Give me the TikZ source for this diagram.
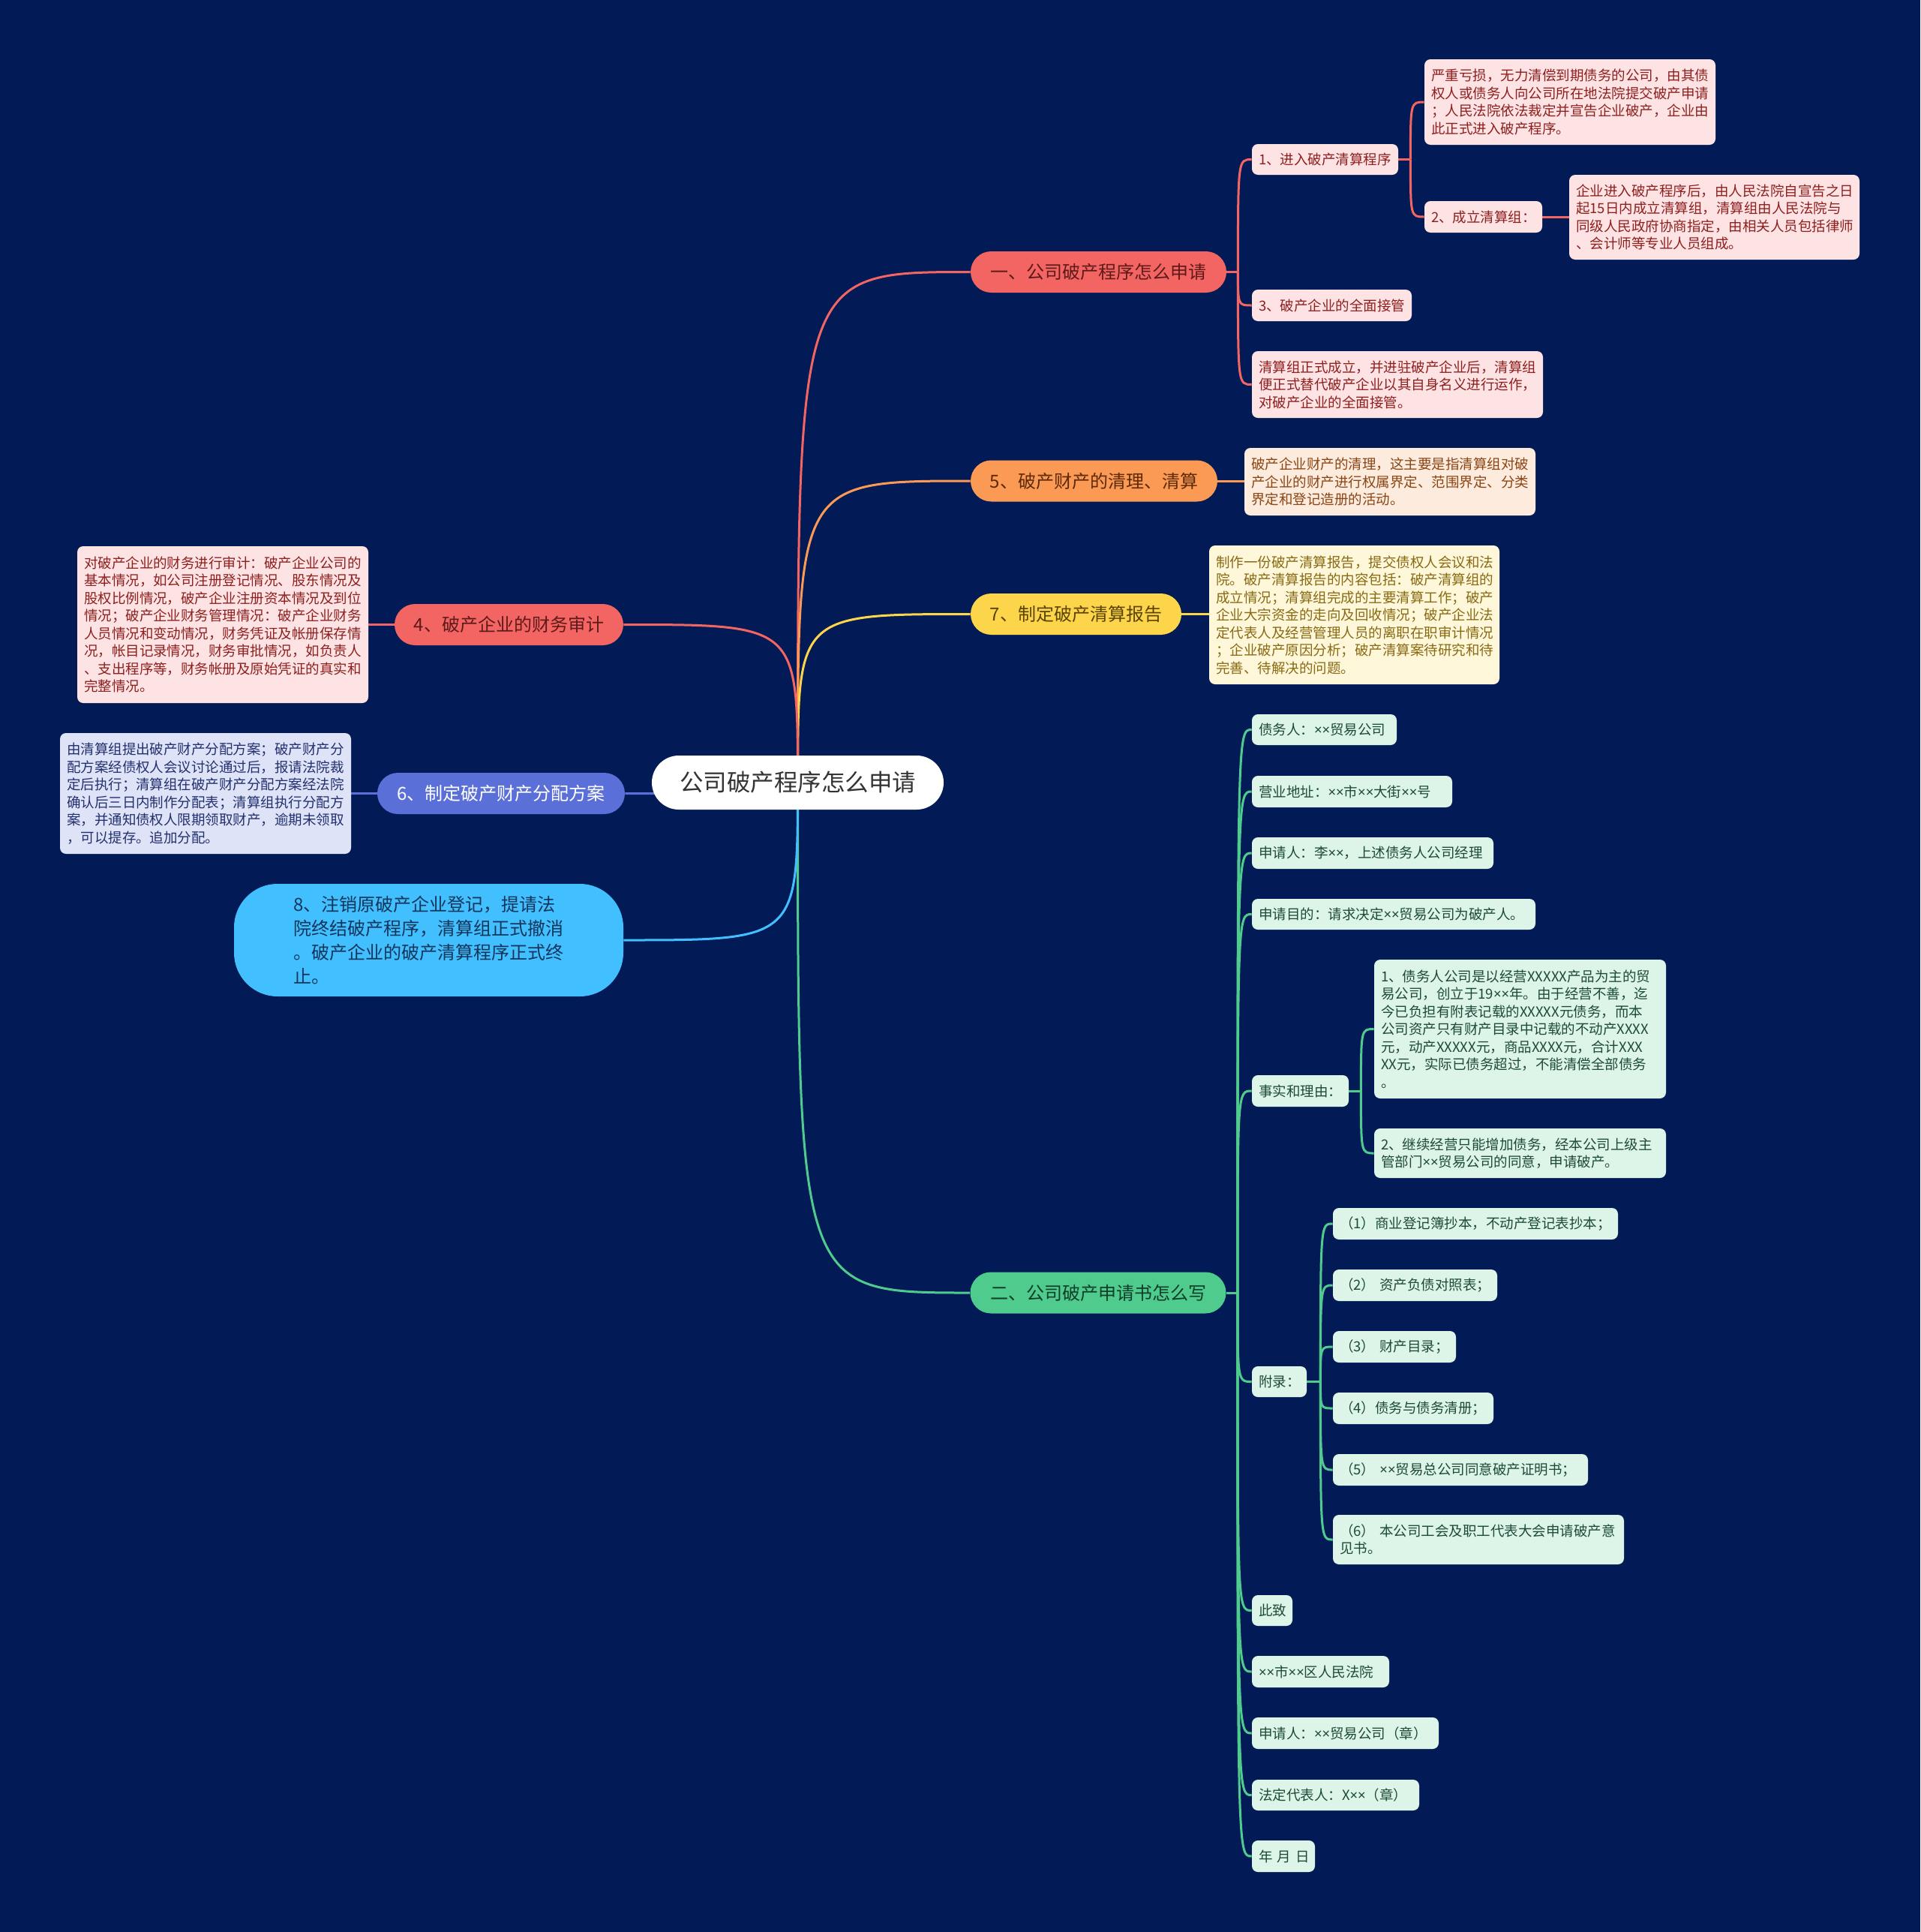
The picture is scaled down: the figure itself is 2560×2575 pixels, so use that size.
\documentclass[tikz,border=0pt]{standalone}
\usepackage{fontspec}
\setmainfont{Noto Sans CJK SC}
\newfontfamily\latf{Noto Sans}
\newcommand\xm{{\latf ×}}
\hyphenpenalty=10000
\exhyphenpenalty=10000
\definecolor{bgc}{RGB}{2,27,86}
\definecolor{cred}{HTML}{F26562}
\definecolor{corange}{HTML}{FB9A55}
\definecolor{cyellow}{HTML}{FDD54B}
\definecolor{cpurple}{HTML}{5B6FD8}
\definecolor{cblue}{HTML}{41BFFF}
\definecolor{cgreen}{HTML}{4FCB8E}
\definecolor{lred}{HTML}{FDE3E3}
\definecolor{tred}{HTML}{8E1F1F}
\definecolor{lorange}{HTML}{FDEBDD}
\definecolor{torange}{HTML}{8A4514}
\definecolor{lyellow}{HTML}{FFF7DA}
\definecolor{tyellow}{HTML}{876A12}
\definecolor{lpurple}{HTML}{DFE3F7}
\definecolor{tpurple}{HTML}{22306E}
\definecolor{lgreen}{HTML}{DDF4E9}
\definecolor{tgreen}{HTML}{1D4A38}
\definecolor{bred}{HTML}{5E1A1A}
\definecolor{borange}{HTML}{5C2A08}
\definecolor{byellow}{HTML}{5A4306}
\definecolor{bblue}{HTML}{14365A}
\definecolor{bgreen}{HTML}{0F3D29}
\pgfdeclarelayer{back}
\pgfdeclarelayer{lines}
\pgfsetlayers{back,lines,main}
\begin{document}
\begin{tikzpicture}[x=0.5pt,y=-0.5pt,
  rootbox/.style={fill=white, text=black!80, rounded corners=18pt, minimum width=194.5pt, minimum height=36pt, inner sep=0pt, font=\fontsize{15.75}{18}\selectfont},
  br/.style={rounded corners=13.75pt, minimum height=27.5pt, inner sep=0pt, font=\fontsize{12}{14}\selectfont},
  lf/.style={rounded corners=4pt, inner xsep=4.5pt, inner ysep=0pt, align=left, font=\fontsize{9.25}{11.75}\selectfont},
  lfR/.style={lf, fill=lred, text=tred},
  lfO/.style={lf, fill=lorange, text=torange},
  lfY/.style={lf, fill=lyellow, text=tyellow},
  lfP/.style={lf, fill=lpurple, text=tpurple},
  lfG/.style={lf, fill=lgreen, text=tgreen},
  cn/.style={line width=1.5pt},
]
\begin{pgfonlayer}{back}
\fill[bgc] (0,0) rectangle (2560,2575);
\end{pgfonlayer}
\useasboundingbox (0,0) rectangle (2560,2575);

% root
\node[rootbox] (root) at (1063.5,1043) {公司破产程序怎么申请};

% branches
\node[br, fill=cred, text=bred, minimum width=170.5pt] (b1) at (1464.5,362.5) {一、公司破产程序怎么申请};
\node[br, fill=corange, text=borange, minimum width=164.5pt] (b5) at (1458.5,641) {5、破产财产的清理、清算};
\node[br, fill=cyellow, text=byellow, minimum width=140.5pt] (b7) at (1434.5,818.5) {7、制定破产清算报告};
\node[br, fill=cgreen, text=bgreen, minimum width=170.5pt] (b2) at (1464,1723) {二、公司破产申请书怎么写};
\node[br, fill=cred, text=bred, minimum width=152.5pt] (b4) at (678.5,832.5) {4、破产企业的财务审计};
\node[br, fill=cpurple, text=white, minimum width=165pt] (b6) at (668,1057.5) {6、制定破产财产分配方案};
\node[br, fill=cblue, text=bblue, minimum width=259.5pt, minimum height=75pt, rounded corners=29pt, text width=180pt, align=left, font=\fontsize{12}{15.85}\selectfont] (b8) at (571.5,1253) {8、注销原破产企业登记，提请法\\院终结破产程序，清算组正式撤消\\。破产企业的破产清算程序正式终\\止。};

% branch 一
\node[lfR, text width=88.5pt, minimum height=20.5pt] (n11) at (1766.5,212.5) {\mbox{1、进入破产清算程序}};
\node[lfR, text width=185pt, minimum height=57pt] (a1) at (2093,136) {严重亏损，无力清偿到期债务的公司，由其债\\权人或债务人向公司所在地法院提交破产申请\\；人民法院依法裁定并宣告企业破产，企业由\\此正式进入破产程序。};
\node[lfR, text width=69.5pt, minimum height=21pt] (n12) at (1977.5,289) {\mbox{2、成立清算组：}};
\node[lfR, text width=184.5pt, minimum height=56.5pt] (a2) at (2285.5,289.5) {企业进入破产程序后，由人民法院自宣告之日\\起15日内成立清算组，清算组由人民法院与\\同级人民政府协商指定，由相关人员包括律师\\、会计师等专业人员组成。};
\node[lfR, text width=97.5pt, minimum height=21pt] (n13) at (1775.5,407) {\mbox{3、破产企业的全面接管}};
\node[lfR, text width=185pt, minimum height=44.5pt] (a3) at (1863,512.5) {清算组正式成立，并进驻破产企业后，清算组\\便正式替代破产企业以其自身名义进行运作，\\对破产企业的全面接管。};

% branch 5, 7
\node[lfO, text width=185pt, minimum height=45pt] (lb) at (1853,642) {破产企业财产的清理，这主要是指清算组对破\\产企业的财产进行权属界定、范围界定、分类\\界定和登记造册的活动。};
\node[lfY, text width=184.5pt, minimum height=92.5pt] (lc) at (1805.5,819.5) {制作一份破产清算报告，提交债权人会议和法\\院。破产清算报告的内容包括：破产清算组的\\成立情况；清算组完成的主要清算工作；破产\\企业大宗资金的走向及回收情况；破产企业法\\定代表人及经营管理人员的离职在职审计情况\\；企业破产原因分析；破产清算案待研究和待\\完善、待解决的问题。};

% branch 4, 6
\node[lfR, text width=185pt, minimum height=104.5pt] (ld) at (297,832.5) {对破产企业的财务进行审计：破产企业公司的\\基本情况，如公司注册登记情况、股东情况及\\股权比例情况，破产企业注册资本情况及到位\\情况；破产企业财务管理情况：破产企业财务\\人员情况和变动情况，财务凭证及帐册保存情\\况，帐目记录情况，财务审批情况，如负责人\\、支出程序等，财务帐册及原始凭证的真实和\\完整情况。};
\node[lfP, text width=185pt, minimum height=80.5pt] (le) at (274,1057.5) {由清算组提出破产财产分配方案；破产财产分\\配方案经债权人会议讨论通过后，报请法院裁\\定后执行；清算组在破产财产分配方案经法院\\确认后三日内制作分配表；清算组执行分配方\\案，并通知债权人限期领取财产，逾期未领取\\，可以提存。追加分配。};

% branch 二
\node[lfG, text width=87.5pt, minimum height=20.5pt] (g1) at (1765.5,972.5) {\mbox{债务人：\xm\xm 贸易公司}};
\node[lfG, text width=124.5pt, minimum height=21pt] (g2) at (1802.5,1055) {\mbox{营业地址：\xm\xm 市\xm\xm 大街\xm\xm 号}};
\node[lfG, text width=152pt, minimum height=21pt] (g3) at (1830,1137) {\mbox{申请人：李\xm\xm ，上述债务人公司经理}};
\node[lfG, text width=180pt, minimum height=20.5pt] (g4) at (1858,1218.5) {\mbox{申请目的：请求决定\xm\xm 贸易公司为破产人。}};
\node[lfG, text width=55.5pt, minimum height=21pt] (g5) at (1733.5,1454) {\mbox{事实和理由：}};
\node[lfG, text width=185.5pt, minimum height=92.5pt] (f1) at (2026.5,1371.5) {1、债务人公司是以经营XXXXX产品为主的贸\\易公司，创立于19\xm\xm 年。由于经营不善，迄\\今已负担有附表记载的XXXXX元债务，而本\\公司资产只有财产目录中记载的不动产XXXX\\元，动产XXXXX元，商品XXXX元，合计XXX\\XX元，实际已债务超过，不能清偿全部债务\\。};
\node[lfG, text width=185.5pt, minimum height=33pt] (f2) at (2026.5,1537) {2、继续经营只能增加债务，经本公司上级主\\管部门\xm\xm 贸易公司的同意，申请破产。};
\node[lfG, text width=27.5pt, minimum height=20.5pt] (g6) at (1705.5,1841.5) {\mbox{附录：}};
\node[lfG, text width=181pt, minimum height=21pt] (h1) at (1967,1631) {\mbox{（1）商业登记簿抄本，不动产登记表抄本；}};
\node[lfG, text width=100.5pt, minimum height=21pt] (h2) at (1886.5,1713) {\mbox{（2） 资产负债对照表；}};
\node[lfG, text width=73pt, minimum height=21pt] (h3) at (1859,1795) {\mbox{（3） 财产目录；}};
\node[lfG, text width=98pt, minimum height=21pt] (h4) at (1884,1877) {\mbox{（4）债务与债务清册；}};
\node[lfG, text width=161pt, minimum height=21pt] (h5) at (1947,1959) {\mbox{（5） \xm\xm 贸易总公司同意破产证明书；}};
\node[lfG, text width=185pt, minimum height=33pt] (h6) at (1971,2052) {（6） 本公司工会及职工代表大会申请破产意\\见书。};
\node[lfG, text width=18pt, minimum height=20.5pt] (g7) at (1696,2146.5) {\mbox{此致}};
\node[lfG, text width=82.5pt, minimum height=21pt] (g8) at (1760.5,2228) {\mbox{\xm\xm 市\xm\xm 区人民法院}};
\node[lfG, text width=115.5pt, minimum height=21pt] (g9) at (1793.5,2310) {\mbox{申请人：\xm\xm 贸易公司（章）}};
\node[lfG, text width=102.5pt, minimum height=20.5pt] (g10) at (1780.5,2392.5) {\mbox{法定代表人：X\xm\xm （章）}};
\node[lfG, text width=33pt, minimum height=21pt] (g11) at (1711,2474) {\mbox{年 月 日}};

\begin{pgfonlayer}{lines}
% root connectors
\draw[cn, cred] (root.center) .. controls (root.center |- b1.west) .. (b1.west);
\draw[cn, corange] (root.center) .. controls (root.center |- b5.west) .. (b5.west);
\draw[cn, cyellow] (root.center) .. controls (root.center |- b7.west) .. (b7.west);
\draw[cn, cgreen] (root.center) .. controls (root.center |- b2.west) .. (b2.west);
\draw[cn, cred] (root.center) .. controls (root.center |- b4.east) .. (b4.east);
\draw[cn, cpurple] (root.center) .. controls (root.center |- b6.east) .. (b6.east);
\draw[cn, cblue] (root.center) .. controls (root.center |- b8.east) .. (b8.east);

% branch 一
\coordinate (j1) at ([xshift=7.5pt]b1.east);
\draw[cn, cred] (b1.east) -- (j1);
\foreach \c in {n11,n13,a3}
  \draw[cn, cred] (j1) .. controls (j1 |- \c.west) .. (\c.west);
\coordinate (j11) at ([xshift=8pt]n11.east);
\draw[cn, cred] (n11.east) -- (j11);
\foreach \c in {a1,n12}
  \draw[cn, cred] (j11) .. controls (j11 |- \c.west) .. (\c.west);
\draw[cn, cred] (n12.east) -- (a2.west |- n12.east);

% branch 5, 7, 4, 6
\draw[cn, corange] (b5.east) -- (lb.west |- b5.east);
\draw[cn, cyellow] (b7.east) -- (lc.west |- b7.east);
\draw[cn, cred] (b4.west) -- (ld.east |- b4.west);
\draw[cn, cpurple] (b6.west) -- (le.east |- b6.west);

% branch 二
\coordinate (j2) at ([xshift=7.5pt]b2.east);
\draw[cn, cgreen] (b2.east) -- (j2);
\foreach \c in {g1,g2,g3,g4,g5,g6,g7,g8,g9,g10,g11}
  \draw[cn, cgreen] (j2) .. controls (j2 |- \c.west) .. (\c.west);
\coordinate (j5) at ([xshift=8pt]g5.east);
\draw[cn, cgreen] (g5.east) -- (j5);
\foreach \c in {f1,f2}
  \draw[cn, cgreen] (j5) .. controls (j5 |- \c.west) .. (\c.west);
\coordinate (j6) at ([xshift=9pt]g6.east);
\draw[cn, cgreen] (g6.east) -- (j6);
\foreach \c in {h1,h2,h3,h4,h5,h6}
  \draw[cn, cgreen] (j6) .. controls (j6 |- \c.west) .. (\c.west);
\end{pgfonlayer}
\end{tikzpicture}
\end{document}
